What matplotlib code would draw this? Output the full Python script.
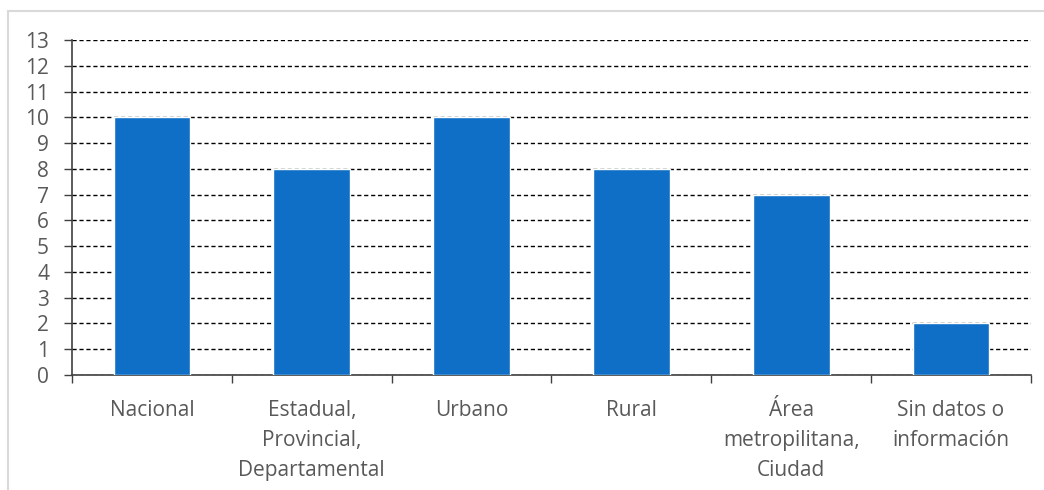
import matplotlib.pyplot as plt
import matplotlib.patches as mpatches
import numpy as np

# Data
categories = ['Nacional', 'Estadual,\nProvincial,\nDepartamental', 'Urbano', 'Rural',
              'Área\nmetropilitana,\nCiudad', 'Sin datos o\ninformación']
values = [10, 8, 10, 8, 7, 2]

plt.rcParams['font.family'] = ['Open Sans', 'DejaVu Sans']

fig = plt.figure(figsize=(10.44, 4.9), dpi=100)
ax = fig.add_axes([0.069, 0.2347, 0.9185, 0.6833])

# light gray chart frame (open at the bottom / right like the reference)
fig.patches.append(mpatches.Rectangle((8 / 1044, -0.1), 1.2, 1 - 11 / 490 + 0.1,
                                      transform=fig.transFigure, fill=False,
                                      edgecolor='#D9D9D9', linewidth=1.5))

x = np.arange(len(categories))
ax.bar(x, values, width=0.48, color='#0F6FC6', edgecolor='white', linewidth=1, zorder=3)

ax.set_xlim(-0.5, len(categories) - 0.5)
ax.set_ylim(0, 13)
ax.set_yticks(range(0, 14))
ax.yaxis.grid(True, linestyle=(0, (3, 2)), color='black', linewidth=1, zorder=0)
ax.set_axisbelow(True)

# ticks at category boundaries, labels at centres
ax.set_xticks(np.arange(-0.5, len(categories)), minor=False)
ax.set_xticklabels([])
ax.set_xticks(x, minor=True)
ax.set_xticklabels(categories, minor=True, fontsize=15, color='#595959', linespacing=1.56)
ax.tick_params(axis='x', which='minor', length=0, pad=18)
ax.tick_params(axis='x', which='major', length=5.5, width=1, color='#404040')
ax.tick_params(axis='y', length=6, width=1, color='#404040', labelsize=15, labelcolor='#595959', pad=10.5)

for side in ['top', 'right']:
    ax.spines[side].set_visible(False)
for side in ['left', 'bottom']:
    ax.spines[side].set_color('#404040')
    ax.spines[side].set_linewidth(1.2)

plt.savefig('out.png', dpi=100)
